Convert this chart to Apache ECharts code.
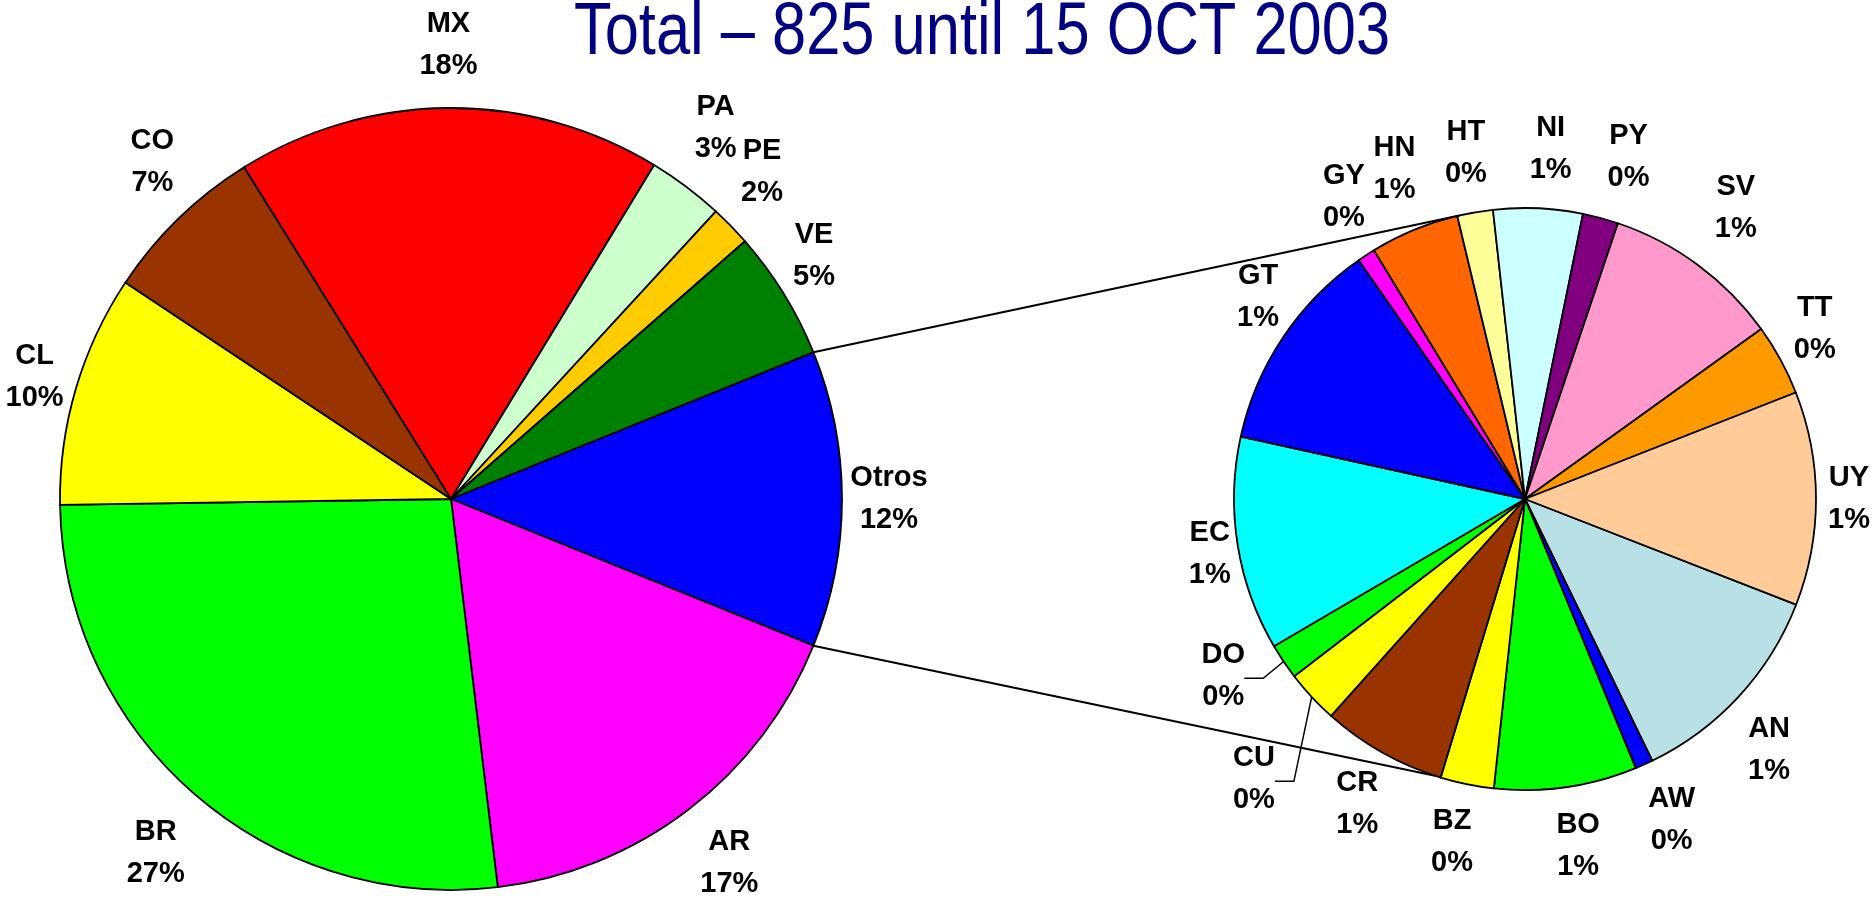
<!DOCTYPE html>
<html><head><meta charset="utf-8">
<script src="https://cdn.jsdelivr.net/npm/echarts@6/dist/echarts.min.js"></script>
<style>html,body{margin:0;padding:0;background:#fff}#chart{width:1872px;height:899px}</style>
</head><body><div id="chart"></div>
<script>
// ---------- data ----------
const titleText = 'Total \u2013 825 until 15 OCT 2003';
const mainNames  = ['MX','PA','PE','VE','Otros','AR','BR','CL','CO'];
const mainValues = [145, 26, 14, 44, 101, 140, 220, 79, 56];
const otherNames  = ['AN','AW','BO','BZ','CR','CU','DO','EC','GT','GY','HN','HT','NI','PY','SV','TT','UY'];
const otherValues = [12, 1, 8, 3, 7, 3, 2, 12, 12, 1, 5, 2, 5, 2, 10, 4, 12];
const splitName = 'Otros';

// ---------- style ----------
const mainColors  = ['#FF0000','#CCFFCC','#FFCC00','#008000','#0000FF','#FF00FF','#00FF00','#FFFF00','#993300'];
const otherColors = ['#B9E0E4','#0000FF','#00FF00','#FFFF00','#993300','#FFFF00','#00FF00','#00FFFF','#0000FF','#FF00FF','#FF6600','#FFFF99','#CCFFFF','#800080','#FF99CC','#FF9900','#FFCC99'];
const FONT = '"Liberation Sans Narrow","Arial Narrow","Liberation Sans",Arial,sans-serif';
const mainC = [451, 499], mainR = 391;
const otherC = [1525, 499], otherR = 291;
const otherStart = 338.7;
// label placement: [angle nudge (deg), distance from centre (px)]
const mainLabelPlace = [[0,454],[1.5,456],[2.1,451],[2.2,437],[0,438],[0,458],[1.3,461],[0,434],[-2.6,450]];
const otherLabelPlace = [[-3.1,350],[0.4,353],[0.6,351],[-0.5,351],[0.5,348],[3.1,390],[-3.5,350],[0.9,320],[-3.4,335],[-2.1,352],[-0.8,355],[-0.2,351],[-1.6,351],[-1.8,357],[0.5,359],[1.8,336],[0,324]];
const leaderLabels = ['DO','CU'];
const connectorAngles = [103, 252]; // where the joining lines touch the second pie

// ---------- derived ----------
const sum = a => a.reduce((s, v) => s + v, 0);
const grandTotal = sum(mainValues);
const splitIdx = mainNames.indexOf(splitName);
const mainStart = 360 * (sum(mainValues.slice(0, splitIdx)) + mainValues[splitIdx] / 2) / grandTotal;
function midAngles(values, start) {
  const t = sum(values); let a = start;
  return values.map(v => { const s = v / t * 360; const m = a - s / 2; a -= s; return m; });
}
const rad = d => d * Math.PI / 180;
const polar = (c, r, ang) => [c[0] + r * Math.cos(rad(ang)), c[1] - r * Math.sin(rad(ang))];
const mainMids = midAngles(mainValues, mainStart);
const otherMids = midAngles(otherValues, otherStart);
const mainLabelPos = mainMids.map((m, i) => polar(mainC, mainLabelPlace[i][1], m + mainLabelPlace[i][0]));
const otherLabelPos = otherMids.map((m, i) => polar(otherC, otherLabelPlace[i][1], m + otherLabelPlace[i][0]));

const pct = v => Math.round(v / grandTotal * 100) + '%';
const labelStyle = {
  show: true, position: 'outside', fontFamily: FONT, fontWeight: 'bold', fontSize: 29, lineHeight: 42,
  color: '#000', formatter: p => p.name + '\n' + pct(p.value)
};

// connectors
const halfSplit = 360 * mainValues[splitIdx] / 2 / grandTotal;
const p1 = polar(mainC, mainR, halfSplit), p2 = polar(mainC, mainR, -halfSplit);
const q1 = polar(otherC, otherR, connectorAngles[0]), q2 = polar(otherC, otherR, connectorAngles[1]);
const graphics = [
  { type: 'text', x: 574, y: -3, scaleX: 0.83, z: 20,
    style: { text: titleText, font: 'normal 74px ' + FONT, fill: '#000080', align: 'left', verticalAlign: 'top', lineHeight: 74 } },
  { type: 'line', shape: { x1: p1[0], y1: p1[1], x2: q1[0], y2: q1[1] }, style: { stroke: '#000', lineWidth: 2 }, z: 10 },
  { type: 'line', shape: { x1: p2[0], y1: p2[1], x2: q2[0], y2: q2[1] }, style: { stroke: '#000', lineWidth: 2 }, z: 10 }
];
leaderLabels.forEach(n => {
  const i = otherNames.indexOf(n);
  const lp = otherLabelPos[i];
  const edge = polar(otherC, otherR, otherMids[i]);
  const endX = lp[0] + 21, y = lp[1] + 2;
  graphics.push({ type: 'polyline', shape: { points: [[endX, y], [endX + 19, y], edge] }, style: { stroke: '#000', lineWidth: 1.5, fill: null }, z: 10 });
});

const chart = echarts.init(document.getElementById('chart'), null, { renderer: 'canvas' });
chart.setOption({
  animation: false,
  backgroundColor: '#fff',
  graphic: graphics,
  series: [
    {
      type: 'pie', center: mainC, radius: mainR, startAngle: mainStart, clockwise: true,
      avoidLabelOverlap: false,
      data: mainNames.map((n, i) => ({ name: n, value: mainValues[i], itemStyle: { color: mainColors[i] } })),
      itemStyle: { borderColor: '#000', borderWidth: 1.8 },
      label: labelStyle, labelLine: { show: false },
      labelLayout: p => ({ x: mainLabelPos[p.dataIndex][0], y: mainLabelPos[p.dataIndex][1], align: 'center', verticalAlign: 'middle' }),
      emphasis: { disabled: true }
    },
    {
      type: 'pie', center: otherC, radius: otherR, startAngle: otherStart, clockwise: true,
      avoidLabelOverlap: false,
      data: otherNames.map((n, i) => ({ name: n, value: otherValues[i], itemStyle: { color: otherColors[i] } })),
      itemStyle: { borderColor: '#000', borderWidth: 1.8 },
      label: labelStyle, labelLine: { show: false },
      labelLayout: p => ({ x: otherLabelPos[p.dataIndex][0], y: otherLabelPos[p.dataIndex][1], align: 'center', verticalAlign: 'middle' }),
      emphasis: { disabled: true }
    }
  ]
});
</script></body></html>
